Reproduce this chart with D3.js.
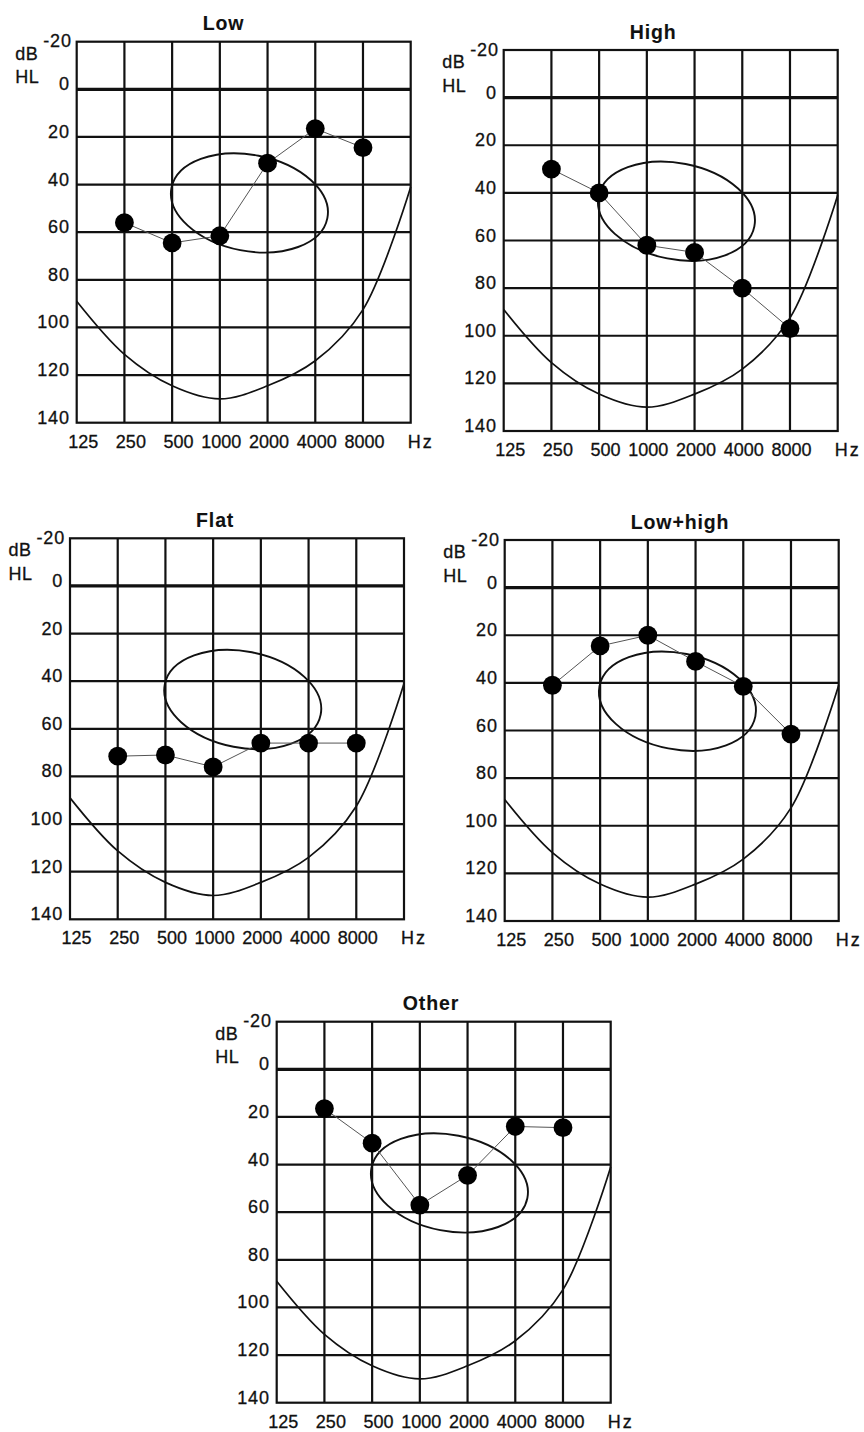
<!DOCTYPE html>
<html>
<head>
<meta charset="utf-8">
<script src="https://cdn.jsdelivr.net/npm/d3@7/dist/d3.min.js"></script>
<style>
  html, body { margin: 0; padding: 0; background: #fff; }
  svg { display: block; }
  text { font-family: "Liberation Sans", Arial, Helvetica, sans-serif; fill: #111; stroke: #111; stroke-width: 0.3px; }
</style>
</head>
<body>
<svg id="chart" width="864" height="1432"></svg>
<script>
// Audiometric frequencies (Hz) at which thresholds are plotted
const testFreqs = [250, 500, 1000, 2000, 4000, 8000];

// Hearing-loss configurations: mean thresholds in dB HL
const panelTitles = ["Low", "High", "Flat", "Low+high", "Other"];
const lowValues     = [56, 64.5, 61.5, 31, 16.5, 24.5];
const highValues    = [30, 40, 62, 65, 80, 97];
const flatValues    = [71.5, 71, 76, 66, 66, 66];
const lowHighValues = [41, 24.5, 20, 31, 41.5, 61.5];
const otherValues   = [16.5, 31, 57, 44.5, 24, 24.5];

// Axis ticks
const xTickFreqs  = [125, 250, 500, 1000, 2000, 4000, 8000];
const xTickLabels = ["125", "250", "500", "1000", "2000", "4000", "8000"];
const xGridFreqs  = [250, 500, 1000, 2000, 4000, 8000];
const yTicks      = [-20, 0, 20, 40, 60, 80, 100, 120, 140];
const yTickLabels = ["-20", "0", "20", "40", "60", "80", "100", "120", "140"];

// Speech area: centre (Hz, dB HL), half-width (octaves), half-height (dB), tilt (degrees)
const speechCenter = [1537, 47.7];
const speechHalfOctaves = 1.664;
const speechHalfLevel = 20.2;
const speechTilt = 11;

// Upper limit curve, one level per octave
const limitFreqs  = [125, 250, 500, 1000, 2000, 4000, 8000, 16000];
const limitLevels = [89, 111.3, 124.5, 130, 124.5, 114, 92.5, 41];

const seriesList = [lowValues, highValues, flatValues, lowHighValues, otherValues];

// Panel placement on the page
const layout = [
  { left: 76.7,  top: 41.7 },
  { left: 503.7, top: 50 },
  { left: 70,    top: 538.3 },
  { left: 504.7, top: 540 },
  { left: 276.7, top: 1021.7 }
];
const W = 334, H = 381;

const svg = d3.select("#chart");

const x = d3.scaleLog().base(2).domain([125, 16000]).range([0, W]);
const y = d3.scaleLinear().domain([-20, 140]).range([0, H]);

const limitPts = limitFreqs.map((f, i) => [f, limitLevels[i]]);
const smoothOpen = d3.line().x(d => x(d[0])).y(d => y(d[1])).curve(d3.curveCatmullRom.alpha(0.5));
const straight   = d3.line().x(d => x(d[0])).y(d => y(d[1]));

panelTitles.forEach((title, p) => {
  const pos = layout[p];
  const g = svg.append("g").attr("transform", `translate(${pos.left},${pos.top})`);

  // title
  g.append("text")
    .attr("x", 126).attr("y", -11.5)
    .attr("font-size", 19.5).attr("font-weight", "bold")
    .attr("letter-spacing", 0.9)
    .style("stroke-width", "0.1px")
    .text(title);

  // unit label
  g.append("text").attr("x", -61.5).attr("y", 18).attr("font-size", 18).attr("letter-spacing", 0.6).text("dB");
  g.append("text").attr("x", -61.5).attr("y", 41.5).attr("font-size", 18).attr("letter-spacing", 0.6).text("HL");

  // grid: vertical lines at test frequencies
  g.selectAll("line.vg").data(xGridFreqs).join("line")
    .attr("class", "vg")
    .attr("x1", d => x(d)).attr("x2", d => x(d))
    .attr("y1", 0).attr("y2", H)
    .attr("stroke", "#111").attr("stroke-width", 2.2);

  // grid: horizontal lines
  g.selectAll("line.hg").data(yTicks.filter(v => v > -20 && v < 140)).join("line")
    .attr("class", "hg")
    .attr("x1", 0).attr("x2", W)
    .attr("y1", d => y(d)).attr("y2", d => y(d))
    .attr("stroke", "#111").attr("stroke-width", d => d === 0 ? 3.4 : 2.2);

  // frame
  g.append("rect").attr("x", 0).attr("y", 0).attr("width", W).attr("height", H)
    .attr("fill", "none").attr("stroke", "#111").attr("stroke-width", 2.2);

  // y tick labels
  g.selectAll("text.yl").data(yTicks).join("text")
    .attr("class", "yl")
    .attr("x", d => d === -20 ? -5 : -7)
    .attr("y", d => y(d) + (d === -20 ? 5.5 : 1))
    .attr("text-anchor", "end")
    .attr("font-size", 18).attr("letter-spacing", 0.8)
    .text((d, i) => yTickLabels[i]);

  // x tick labels
  g.selectAll("text.xl").data(xTickFreqs).join("text")
    .attr("class", "xl")
    .attr("x", d => x(d) + 21.5)
    .attr("y", H + 25)
    .attr("text-anchor", "end")
    .attr("font-size", 18)
    .text((d, i) => xTickLabels[i]);

  g.append("text").attr("x", W - 3).attr("y", H + 25)
    .attr("font-size", 18).attr("letter-spacing", 2).text("Hz");

  // speech area ellipse
  const cx = x(speechCenter[0]), cy = y(speechCenter[1]);
  const rx = x(speechCenter[0] * Math.pow(2, speechHalfOctaves)) - cx;
  const ry = y(speechCenter[1] + speechHalfLevel) - cy;
  g.append("ellipse")
    .attr("cx", 0).attr("cy", 0).attr("rx", rx).attr("ry", ry)
    .attr("transform", `translate(${cx},${cy}) rotate(${speechTilt})`)
    .attr("fill", "none").attr("stroke", "#111").attr("stroke-width", 1.9);

  // upper limit curve
  g.append("path").attr("d", smoothOpen(limitPts))
    .attr("fill", "none").attr("stroke", "#111").attr("stroke-width", 1.7);

  // threshold series
  const pts = testFreqs.map((f, i) => [f, seriesList[p][i]]);
  g.append("path").attr("d", straight(pts))
    .attr("fill", "none").attr("stroke", "#555").attr("stroke-width", 1);
  g.selectAll("circle.pt").data(pts).join("circle")
    .attr("class", "pt")
    .attr("cx", d => x(d[0])).attr("cy", d => y(d[1]))
    .attr("r", 9.4).attr("fill", "#000");
});
</script>
</body>
</html>
